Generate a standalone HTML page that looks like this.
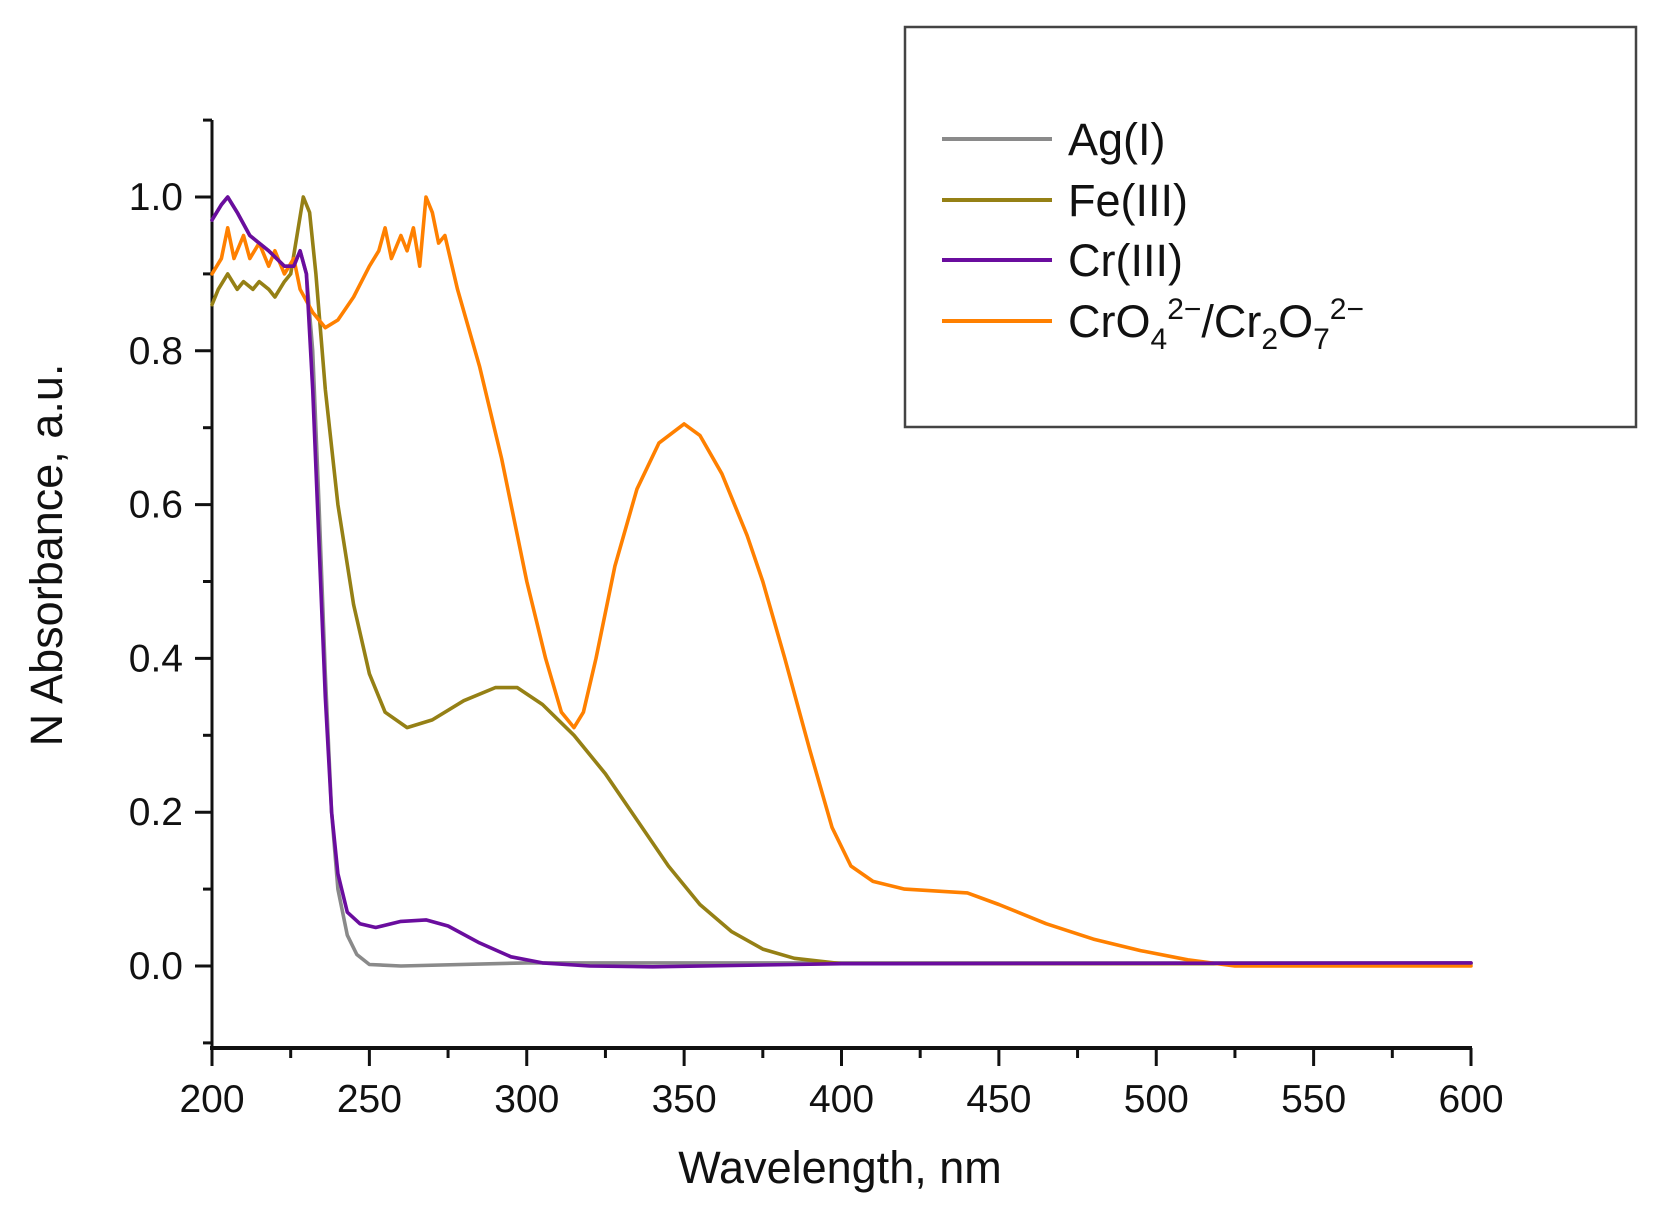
<!DOCTYPE html>
<html><head><meta charset="utf-8"><style>
html,body{margin:0;padding:0;background:#fff}
svg{display:block}
text{font-family:"Liberation Sans",sans-serif;fill:#111}
</style></head><body>
<svg id="s" width="1675" height="1220" viewBox="0 0 1675 1220" xmlns="http://www.w3.org/2000/svg">
<g id="axes" stroke="#111" stroke-width="3" fill="none">
<line x1="212" y1="120" x2="212" y2="1049"/>
<line x1="210" y1="1048" x2="1472" y2="1048" stroke-width="4"/>
</g>
<g id="ticks" stroke="#111" stroke-width="3"></g>
<g id="labels" font-size="39"></g>
<g id="series" fill="none" stroke-width="3.6" stroke-linejoin="round" stroke-linecap="round"></g>
<text x="840" y="1183" font-size="45" text-anchor="middle">Wavelength, nm</text>
<text transform="translate(62,555) rotate(-90)" font-size="45" text-anchor="middle">N Absorbance, a.u.</text>
<rect x="905" y="27" width="731" height="400" fill="none" stroke="#444" stroke-width="2.5"/>
<g stroke-width="4">
<line x1="942" y1="139" x2="1052" y2="139" stroke="#8a8a8a"/>
<line x1="942" y1="200" x2="1052" y2="200" stroke="#958015"/>
<line x1="942" y1="260" x2="1052" y2="260" stroke="#6a0d9e"/>
<line x1="942" y1="321" x2="1052" y2="321" stroke="#ff8000"/>
</g>
<g font-size="45">
<text x="1068" y="155">Ag(I)</text>
<text x="1068" y="216">Fe(III)</text>
<text x="1068" y="276">Cr(III)</text>
<text x="1068" y="337">CrO<tspan font-size="30" dy="12">4</tspan><tspan font-size="30" dy="-30">2−</tspan><tspan dy="18">/Cr</tspan><tspan font-size="30" dy="12">2</tspan><tspan dy="-12">O</tspan><tspan font-size="30" dy="12">7</tspan><tspan font-size="30" dy="-30">2−</tspan></text>
</g>
</svg>
<script>
const X=n=>212+(n-200)*(1471-212)/400, Y=v=>966-v*769;
const NS="http://www.w3.org/2000/svg";
const tk=document.getElementById('ticks'),lb=document.getElementById('labels'),se=document.getElementById('series');
function el(p,t,a,txt){const e=document.createElementNS(NS,t);for(const k in a)e.setAttribute(k,a[k]);if(txt)e.textContent=txt;p.appendChild(e);}
for(let n=200;n<=600;n+=25){const maj=n%50==0;el(tk,'line',{x1:X(n),y1:1048,x2:X(n),y2:maj?1066:1058});
 if(maj)el(lb,'text',{x:X(n),y:1112,'text-anchor':'middle'},String(n));}
for(let i=-1;i<=11;i++){const v=i/10,maj=i%2==0&&i>=0&&i<=10;el(tk,'line',{x1:maj?195:203,y1:Y(v),x2:212,y2:Y(v)});
 if(maj)el(lb,'text',{x:183,y:Y(v)+13,'text-anchor':'end'},v.toFixed(1));}
const D={
"#8a8a8a":[[200,0.97],[203,0.99],[205,1.0],[208,0.98],[212,0.95],[218,0.93],[223,0.91],[226,0.91],[228,0.93],[230,0.9],[232,0.8],[234,0.6],[236,0.38],[238,0.2],[240,0.1],[243,0.04],[246,0.015],[250,0.002],[260,0],[300,0.004],[600,0.004]],
"#958015":[[200,0.86],[202,0.88],[205,0.9],[208,0.88],[210,0.89],[213,0.88],[215,0.89],[218,0.88],[220,0.87],[223,0.89],[225,0.9],[227,0.95],[229,1.0],[231,0.98],[233,0.9],[236,0.75],[240,0.6],[245,0.47],[250,0.38],[255,0.33],[262,0.31],[270,0.32],[280,0.345],[290,0.362],[297,0.362],[305,0.34],[315,0.3],[325,0.25],[335,0.19],[345,0.13],[355,0.08],[365,0.045],[375,0.022],[385,0.01],[400,0.003],[600,0.003]],
"#ff8000":[[200,0.9],[203,0.92],[205,0.96],[207,0.92],[210,0.95],[212,0.92],[215,0.94],[218,0.91],[220,0.93],[223,0.9],[226,0.92],[228,0.88],[232,0.85],[236,0.83],[240,0.84],[245,0.87],[250,0.91],[253,0.93],[255,0.96],[257,0.92],[260,0.95],[262,0.93],[264,0.96],[266,0.91],[268,1.0],[270,0.98],[272,0.94],[274,0.95],[278,0.88],[285,0.78],[292,0.66],[300,0.5],[306,0.4],[311,0.33],[315,0.31],[318,0.33],[322,0.4],[328,0.52],[335,0.62],[342,0.68],[350,0.705],[355,0.69],[362,0.64],[370,0.56],[375,0.5],[382,0.4],[390,0.28],[397,0.18],[403,0.13],[410,0.11],[420,0.1],[440,0.095],[450,0.08],[465,0.055],[480,0.035],[495,0.02],[510,0.008],[525,0.0],[600,0.0]],
"#6a0d9e":[[200,0.97],[203,0.99],[205,1.0],[208,0.98],[212,0.95],[215,0.94],[218,0.93],[223,0.91],[226,0.91],[228,0.93],[230,0.9],[232,0.75],[234,0.55],[236,0.35],[238,0.2],[240,0.12],[243,0.07],[247,0.055],[252,0.05],[260,0.058],[268,0.06],[275,0.052],[285,0.03],[295,0.012],[305,0.004],[320,0.0],[340,-0.001],[400,0.003],[600,0.004]]};
for(const c in D)el(se,'polyline',{stroke:c,points:D[c].map(p=>X(p[0]).toFixed(1)+','+Y(p[1]).toFixed(1)).join(' ')});
</script>
</body></html>
